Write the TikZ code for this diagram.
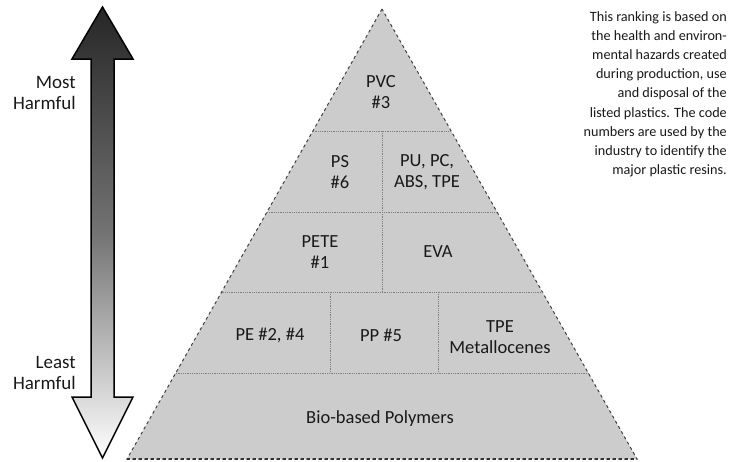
\documentclass[tikz,border=0pt]{standalone}
\usepackage{fontspec}
\setmainfont{Carlito}
\usetikzlibrary{calc}
\tikzset{
  lbl/.style={inner sep=0pt, align=center, font=\fontsize{18.5}{21}\selectfont, text=black!90},
  sidelbl/.style={inner sep=0pt, align=right, font=\fontsize{19}{20.5}\selectfont, text=black!90},
  divider/.style={densely dotted, black!50, line width=0.8pt},
  pyr/.style={fill=black!20, draw=black!75, dashed, line width=1pt},
}
\begin{document}
\begin{tikzpicture}[x=1pt,y=-1pt]
\useasboundingbox (0,0) rectangle (730,461);
% pyramid
\coordinate (A) at (382,9);
\coordinate (BL) at (127,459);
\coordinate (BR) at (637,459);
\path[pyr] (A) -- (BL) -- (BR) -- cycle;
\draw[black!80, dashed, line width=1.6pt] (BL) -- (BR);
% row dividers
\foreach \t/\n in {0.2711/a,0.4511/b,0.6289/c,0.8089/d}{
  \coordinate (L\n) at ($(A)!\t!(BL)$);
  \coordinate (R\n) at ($(A)!\t!(BR)$);
  \draw[divider] (L\n) -- (R\n);
}
\coordinate (v1t) at (382,131);
\coordinate (v1b) at (382,292);
\coordinate (v2t) at (330,292);
\coordinate (v2b) at (330,373);
\coordinate (v3t) at (438,292);
\coordinate (v3b) at (438,373);
\draw[divider] (v1t) -- (v1b);
\draw[divider] (v2t) -- (v2b);
\draw[divider] (v3t) -- (v3b);
% labels
\node[lbl] (pvc) at (381,92) {PVC\\\#3};
\node[lbl] (ps) at (340,172) {PS\\\#6};
\node[lbl] (pu) at (427,172) {PU, PC,\\ABS, TPE};
\node[lbl] (pete) at (320,252) {PETE\\\#1};
\node[lbl] (eva) at (438,252) {EVA};
\node[lbl] (pe) at (270,335) {PE \#2, \#4};
\node[lbl] (pp) at (381,335) {PP \#5};
\node[lbl] (tpe) at (500,337) {TPE\\Metallocenes};
\node[lbl] (bio) at (380,419) {Bio-based Polymers};
% arrow
\draw[line width=1.5pt, line join=miter, top color=black!85, bottom color=white, middle color=black!55]
  (102.5,7) -- (133,59) -- (114,59) -- (114,397) -- (133,397) -- (102.5,458)
  -- (72,397) -- (91,397) -- (91,59) -- (72,59) -- cycle;
\node[sidelbl, anchor=east] (most) at (76,93) {Most\\Harmful};
\node[sidelbl, anchor=east] (least) at (76,373) {Least\\Harmful};
% note
\node[anchor=north east, inner sep=0pt, align=right, font=\fontsize{14.2}{19.2}\selectfont, text=black!90] (note) at (727,11)
{This ranking is based on\\the health and environ-\\mental hazards created\\during production, use\\and disposal of the\\listed plastics. The code\\numbers are used by the\\industry to identify the\\major plastic resins.};
\end{tikzpicture}
\end{document}
